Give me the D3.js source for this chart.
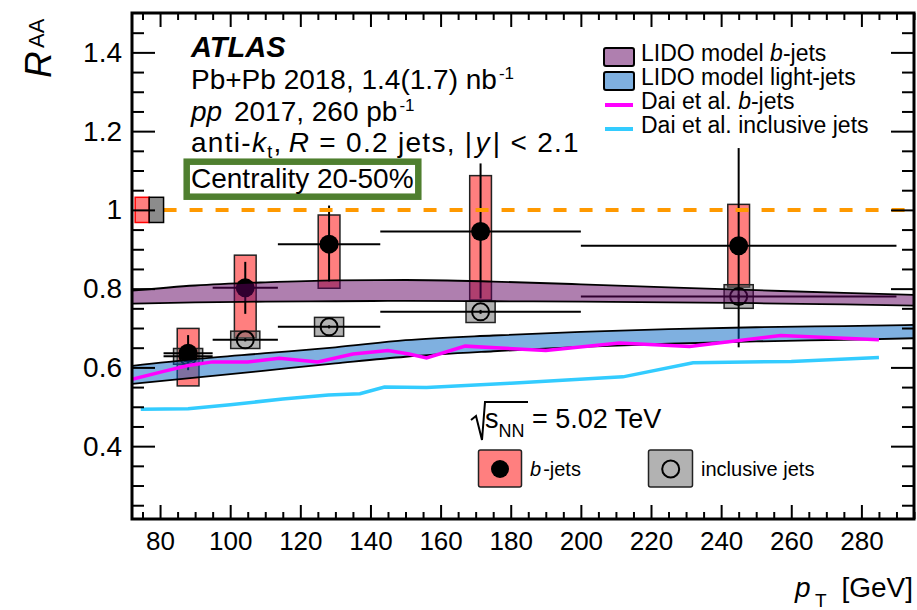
<!DOCTYPE html>
<html><head><meta charset="utf-8">
<script src="https://cdn.jsdelivr.net/npm/d3@7"></script>
<style>
body{margin:0;background:#fff}
svg{display:block}
text{font-family:"Liberation Sans",Arial,Helvetica,sans-serif;fill:#000}
</style>
</head><body>
<svg id="chart" width="917" height="610"></svg>
<script>
// pT bins (GeV)
const ptLow    = [81, 95, 113.6, 142.8, 200];
const ptHigh   = [95, 113.6, 142.8, 200, 290];
const ptCenter = [88, 104.3, 128.2, 171.4, 245];

// b-jet R_AA with statistical and systematic uncertainties
const bjetRaa    = [0.636, 0.802, 0.913, 0.945, 0.909];
const bjetStatLo = [0.043, 0.066, 0.095, 0.170, 0.258];
const bjetStatHi = [0.046, 0.066, 0.098, 0.173, 0.248];
const bjetSysLo  = [0.083, 0.127, 0.112, 0.174, 0.105];
const bjetSysHi  = [0.063, 0.083, 0.074, 0.142, 0.105];

// inclusive-jet R_AA
const inclRaa  = [0.628, 0.670, 0.703, 0.741, 0.780];
const inclStat = [0.004, 0.004, 0.004, 0.005, 0.006];
const inclSys  = [0.020, 0.022, 0.024, 0.027, 0.030];

// global normalisation uncertainties at R_AA = 1
const normBjet = 0.032;
const normIncl = 0.032;

// LIDO model bands
const lidoPt  = [72, 90, 110, 130, 150, 175, 200, 225, 250, 275, 295];
const lidoBHi = [0.795, 0.808, 0.816, 0.821, 0.822, 0.818, 0.811, 0.803, 0.796, 0.789, 0.784];
const lidoBLo = [0.762, 0.765, 0.767, 0.768, 0.769, 0.768, 0.767, 0.765, 0.763, 0.760, 0.757];
const lidoLHi = [0.604, 0.621, 0.636, 0.651, 0.669, 0.681, 0.690, 0.697, 0.702, 0.705, 0.708];
const lidoLLo = [0.558, 0.574, 0.592, 0.610, 0.627, 0.641, 0.652, 0.660, 0.666, 0.670, 0.674];

// Dai et al. curves
const daiBPt  = [72, 81, 88, 95, 105, 114, 125, 135, 145, 151, 156, 167, 190, 211, 231, 257, 285];
const daiBRaa = [0.570, 0.590, 0.605, 0.614, 0.614, 0.623, 0.614, 0.634, 0.643, 0.634, 0.624, 0.654, 0.643, 0.662, 0.653, 0.681, 0.670];
const daiIPt  = [74.5, 88, 100, 115, 128, 137, 144, 156, 180, 212, 232, 260, 285];
const daiIRaa = [0.494, 0.495, 0.505, 0.520, 0.530, 0.533, 0.550, 0.549, 0.560, 0.576, 0.612, 0.615, 0.625];

// axis ticks
const xMajor = [80, 100, 120, 140, 160, 180, 200, 220, 240, 260, 280];
const yMajor = [0.4, 0.6, 0.8, 1.0, 1.2, 1.4];

const svg = d3.select("#chart");
const L = 132, R = 914, T = 13, B = 519;
const x = d3.scaleLinear().domain([72, 295]).range([L, R]);
const y = d3.scaleLinear().domain([0.215, 1.5]).range([B, T]);

svg.append("defs").append("clipPath").attr("id", "plot")
  .append("rect").attr("x", L).attr("y", T).attr("width", R - L).attr("height", B - T);
const g = svg.append("g").attr("clip-path", "url(#plot)");

const idx = d3.range(bjetRaa.length);
const bjetBoxHalf = 3.1, inclBoxHalf = 4.15;

// systematic boxes
g.selectAll(".bsys").data(idx).join("rect")
  .attr("x", i => x(ptCenter[i] - bjetBoxHalf))
  .attr("width", i => x(ptCenter[i] + bjetBoxHalf) - x(ptCenter[i] - bjetBoxHalf))
  .attr("y", i => y(bjetRaa[i] + bjetSysHi[i]))
  .attr("height", i => y(bjetRaa[i] - bjetSysLo[i]) - y(bjetRaa[i] + bjetSysHi[i]))
  .attr("fill", "rgba(255,0,0,0.5)").attr("stroke", "#222").attr("stroke-width", 1.5);

g.selectAll(".isys").data(idx).join("rect")
  .attr("x", i => x(ptCenter[i] - inclBoxHalf))
  .attr("width", i => x(ptCenter[i] + inclBoxHalf) - x(ptCenter[i] - inclBoxHalf))
  .attr("y", i => y(inclRaa[i] + inclSys[i]))
  .attr("height", i => y(inclRaa[i] - inclSys[i]) - y(inclRaa[i] + inclSys[i]))
  .attr("fill", "rgba(102,102,102,0.5)").attr("stroke", "#222").attr("stroke-width", 1.5);

// error bars
const err = g.append("g").attr("stroke", "#000").attr("stroke-width", 2);
idx.forEach(i => {
  err.append("line").attr("x1", x(ptLow[i])).attr("x2", x(ptHigh[i]))
    .attr("y1", y(inclRaa[i])).attr("y2", y(inclRaa[i]));
  err.append("line").attr("x1", x(ptCenter[i])).attr("x2", x(ptCenter[i]))
    .attr("y1", y(inclRaa[i] + inclStat[i])).attr("y2", y(inclRaa[i] - inclStat[i]));
  err.append("line").attr("x1", x(ptLow[i])).attr("x2", x(ptHigh[i]))
    .attr("y1", y(bjetRaa[i])).attr("y2", y(bjetRaa[i]));
  err.append("line").attr("x1", x(ptCenter[i])).attr("x2", x(ptCenter[i]))
    .attr("y1", y(bjetRaa[i] + bjetStatHi[i])).attr("y2", y(bjetRaa[i] - bjetStatLo[i]));
});

// markers
g.selectAll(".imk").data(idx).join("circle")
  .attr("cx", i => x(ptCenter[i])).attr("cy", i => y(inclRaa[i])).attr("r", 8.5)
  .attr("fill", "none").attr("stroke", "#000").attr("stroke-width", 2);
g.selectAll(".bmk").data(idx).join("circle")
  .attr("cx", i => x(ptCenter[i])).attr("cy", i => y(bjetRaa[i])).attr("r", 9.5)
  .attr("fill", "#000");

// model bands
function band(hi, lo, fill) {
  const area = d3.area().x((d, i) => x(lidoPt[i])).y0((d, i) => y(lo[i])).y1((d, i) => y(hi[i]))
    .curve(d3.curveMonotoneX);
  g.append("path").datum(hi).attr("d", area).attr("fill", fill);
  const line = d3.line().x((d, i) => x(lidoPt[i])).y(d => y(d)).curve(d3.curveMonotoneX);
  [hi, lo].forEach(arr => g.append("path").datum(arr).attr("d", line)
    .attr("fill", "none").attr("stroke", "#000").attr("stroke-width", 1.8));
}
band(lidoBHi, lidoBLo, "rgba(96,0,96,0.5)");
band(lidoLHi, lidoLLo, "rgba(0,97,193,0.5)");

const dLine = (px) => d3.line().x((d, i) => x(px[i])).y(d => y(d));
g.append("path").datum(daiBRaa).attr("d", dLine(daiBPt))
  .attr("fill", "none").attr("stroke", "#ff00ff").attr("stroke-width", 3.5);
g.append("path").datum(daiIRaa).attr("d", dLine(daiIPt))
  .attr("fill", "none").attr("stroke", "#33ccff").attr("stroke-width", 3.5);

// unity line
g.append("line").attr("x1", x(81)).attr("x2", x(295)).attr("y1", y(1)).attr("y2", y(1))
  .attr("stroke", "#ff9900").attr("stroke-width", 4).attr("stroke-dasharray", "13,13");

// normalisation boxes
g.append("rect").attr("x", x(72.9)).attr("width", x(76.9) - x(72.9))
  .attr("y", y(1 + normBjet)).attr("height", y(1 - normBjet) - y(1 + normBjet))
  .attr("fill", "rgba(255,0,0,0.5)").attr("stroke", "#ff0000").attr("stroke-width", 1.5);
g.append("rect").attr("x", x(76.9)).attr("width", x(81) - x(76.9))
  .attr("y", y(1 + normIncl)).attr("height", y(1 - normIncl) - y(1 + normIncl))
  .attr("fill", "#8c8c8c").attr("stroke", "#000").attr("stroke-width", 1.5);

// axes
const xMinor = d3.range(75, 296, 5).filter(v => !xMajor.includes(v));
const yMinor = d3.range(0.25, 1.5, 0.05).map(v => +v.toFixed(2)).filter(v => !yMajor.some(m => Math.abs(m - v) < 1e-6));
const fmtY = d => d === 1 ? "1" : d3.format(".1f")(d);

function styleAxis(sel, fs) {
  sel.select(".domain").remove();
  sel.selectAll(".tick line").attr("stroke", "#000").attr("stroke-width", 2);
  sel.selectAll(".tick text").attr("font-size", fs).attr("font-family", "Liberation Sans, Arial, sans-serif").attr("fill", "#000");
}
svg.append("g").attr("transform", `translate(0,${B})`)
  .call(d3.axisBottom(x).tickValues(xMajor).tickSize(-14).tickPadding(13).tickFormat(d3.format("d")))
  .call(s => styleAxis(s, 26));
svg.append("g").attr("transform", `translate(0,${B})`)
  .call(d3.axisBottom(x).tickValues(xMinor).tickSize(-7).tickFormat(""))
  .call(s => styleAxis(s, 0));
svg.append("g").attr("transform", `translate(0,${T})`)
  .call(d3.axisTop(x).tickValues(xMajor).tickSize(-14).tickFormat(""))
  .call(s => styleAxis(s, 0));
svg.append("g").attr("transform", `translate(0,${T})`)
  .call(d3.axisTop(x).tickValues(xMinor).tickSize(-7).tickFormat(""))
  .call(s => styleAxis(s, 0));
svg.append("g").attr("transform", `translate(${L},0)`)
  .call(d3.axisLeft(y).tickValues(yMajor).tickSize(-23).tickPadding(10).tickFormat(fmtY))
  .call(s => styleAxis(s, 28));
svg.append("g").attr("transform", `translate(${L},0)`)
  .call(d3.axisLeft(y).tickValues(yMinor).tickSize(-12).tickFormat(""))
  .call(s => styleAxis(s, 0));
svg.append("g").attr("transform", `translate(${R},0)`)
  .call(d3.axisRight(y).tickValues(yMajor).tickSize(-23).tickFormat(""))
  .call(s => styleAxis(s, 0));
svg.append("g").attr("transform", `translate(${R},0)`)
  .call(d3.axisRight(y).tickValues(yMinor).tickSize(-12).tickFormat(""))
  .call(s => styleAxis(s, 0));

svg.append("rect").attr("x", L).attr("y", T).attr("width", R - L).attr("height", B - T)
  .attr("fill", "none").attr("stroke", "#000").attr("stroke-width", 3);

// axis titles
svg.append("text").attr("transform", "translate(51,78) rotate(-90)")
  .attr("font-size", 37).attr("font-style", "italic").text("R");
svg.append("text").attr("transform", "translate(44,48) rotate(-90)")
  .attr("font-size", 22).text("AA");
svg.append("text").attr("x", 795).attr("y", 597).attr("font-size", 28).attr("font-style", "italic").text("p");
svg.append("text").attr("x", 815).attr("y", 607).attr("font-size", 19).text("T");
svg.append("text").attr("x", 913).attr("y", 597).attr("font-size", 28).attr("text-anchor", "end").text("[GeV]");

// labels
function rich(xp, yp, fs, parts) {
  const t = svg.append("text").attr("x", xp).attr("y", yp).attr("font-size", fs);
  parts.forEach(p => {
    const s = t.append("tspan").text(p.t);
    if (p.i) s.attr("font-style", "italic");
    if (p.b) s.attr("font-weight", "bold");
    if (p.fs) s.attr("font-size", p.fs);
    if (p.dy) s.attr("dy", p.dy);
    if (p.dx) s.attr("dx", p.dx);
  });
  return t;
}
rich(191, 57, 29, [{t: "ATLAS", i: 1, b: 1}]);
rich(191, 89, 28, [{t: "Pb+Pb 2018, 1.4(1.7) nb"}, {t: "-1", fs: 17, dy: -10, dx: 2}]);
rich(191, 121, 28, [{t: "pp", i: 1}, {t: " 2017, 260 pb", dx: 4}, {t: "-1", fs: 17, dy: -10, dx: 2}]);
rich(191, 152, 28, [{t: "anti-"}, {t: "k", i: 1}, {t: "t", fs: 18, dy: 6}, {t: ",", dy: -6},
  {t: "R", i: 1, dx: 6}, {t: " = 0.2 jets, |"}, {t: "y", i: 1, dx: 2}, {t: "| < 2.1", dx: 2}])
  .attr("letter-spacing", 1.3);

svg.append("rect").attr("x", 186.7).attr("y", 161.7).attr("width", 231.6).attr("height", 35)
  .attr("fill", "#fff").attr("stroke", "#4f7f2f").attr("stroke-width", 6.5);
rich(191, 188, 28, [{t: "Centrality 20-50%"}]);

// model legend
const leg = [
  {kind: "box", fill: "rgba(96,0,96,0.5)", parts: [{t: "LIDO model "}, {t: "b", i: 1}, {t: "-jets"}]},
  {kind: "box", fill: "rgba(0,97,193,0.5)", parts: [{t: "LIDO model light-jets"}]},
  {kind: "line", color: "#ff00ff", parts: [{t: "Dai et al. "}, {t: "b", i: 1}, {t: "-jets"}]},
  {kind: "line", color: "#33ccff", parts: [{t: "Dai et al. inclusive jets"}]}
];
leg.forEach((e, i) => {
  const yb = 61 + i * 24;
  if (e.kind === "box") {
    svg.append("rect").attr("x", 604).attr("y", yb - 13).attr("width", 30).attr("height", 18).attr("rx", 2)
      .attr("fill", e.fill).attr("stroke", "#000").attr("stroke-width", 2);
  } else {
    svg.append("line").attr("x1", 605).attr("x2", 633).attr("y1", yb - 4).attr("y2", yb - 4)
      .attr("stroke", e.color).attr("stroke-width", 4);
  }
  rich(641, yb, 23, e.parts);
});

// collision energy
svg.append("path").attr("d", "M471,420 L476,416 L482,440 L485,402 L528,402")
  .attr("fill", "none").attr("stroke", "#000").attr("stroke-width", 2);
rich(485, 428, 27, [{t: "s"}, {t: "NN", fs: 18, dy: 9}, {t: " = 5.02 TeV", dy: -9}]);

// data legend
svg.append("rect").attr("x", 478.5).attr("y", 450).attr("width", 43).attr("height", 37).attr("rx", 2)
  .attr("fill", "rgba(255,0,0,0.5)").attr("stroke", "#222").attr("stroke-width", 1.5);
svg.append("circle").attr("cx", 500).attr("cy", 469).attr("r", 9).attr("fill", "#000");
rich(530, 476, 20, [{t: "b", i: 1}, {t: "-jets", dx: 2}]);
svg.append("rect").attr("x", 648.5).attr("y", 450).attr("width", 44).attr("height", 37).attr("rx", 2)
  .attr("fill", "rgba(102,102,102,0.5)").attr("stroke", "#222").attr("stroke-width", 1.5);
svg.append("circle").attr("cx", 670.7).attr("cy", 469).attr("r", 8.5)
  .attr("fill", "none").attr("stroke", "#000").attr("stroke-width", 2);
rich(701, 476, 20, [{t: "inclusive jets"}]);
</script>
</body></html>
